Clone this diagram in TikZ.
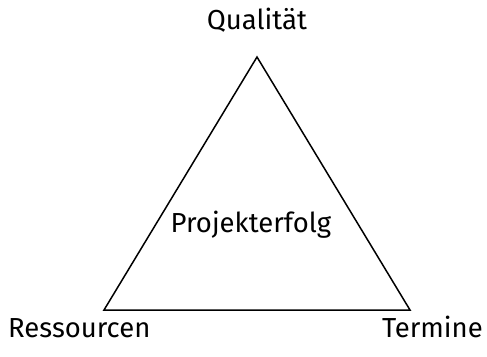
\documentclass[tikz,border=0pt]{standalone}
\usepackage{fontspec}
\setmainfont{Fira Sans}
\begin{document}
\begin{tikzpicture}[x=1pt,y=1pt,
  lbl/.style={inner sep=0pt,font=\fontsize{27.5}{30}\selectfont},
  edge/.style={line width=1.5pt,line join=miter}]
\useasboundingbox (0,0) rectangle (487,-356);
\coordinate (top) at (257,-57);
\coordinate (bl) at (104,-310);
\coordinate (br) at (410,-310);
\draw[edge] (top) -- (br) -- (bl) -- cycle;
\node[lbl,anchor=base] (q) at (257,-29) {Qualität};
\node[lbl,anchor=base west] (r) at (8,-337) {Ressourcen};
\node[lbl,anchor=base east] (t) at (483,-337) {Termine};
\node[lbl,anchor=base] (p) at (251,-232) {Projekterfolg};
\end{tikzpicture}
\end{document}
